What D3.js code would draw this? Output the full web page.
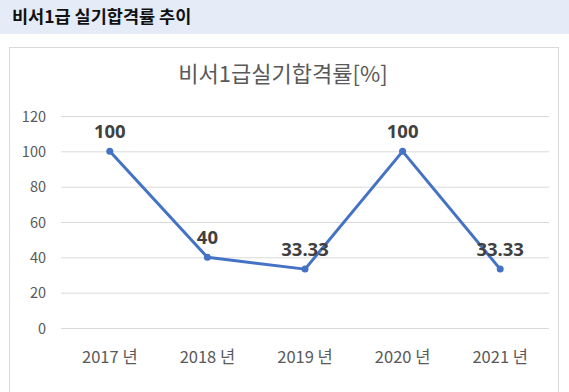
<!DOCTYPE html>
<html><head><meta charset="utf-8">
<script src="https://cdn.jsdelivr.net/npm/d3@7"></script>
<style>body{margin:0;background:#fff;}svg{display:block;}</style>
</head><body>
<svg id="c" width="569" height="392"></svg>
<script>
const pageTitle = "비서1급 실기합격률 추이";
const chartTitle = "비서1급실기합격률[%]";
const categories = ["2017 년", "2018 년", "2019 년", "2020 년", "2021 년"];
const values = [100, 40, 33.33, 100, 33.33];
const valueLabels = ["100", "40", "33.33", "100", "33.33"];
const yTicks = [0, 20, 40, 60, 80, 100, 120];

const svg = d3.select("#c");
svg.append("rect").attr("x",0).attr("y",0).attr("width",569).attr("height",34).attr("fill","#e5ecf8");
svg.append("text").attr("x",12).attr("y",23).text(pageTitle)
  .attr("font-family","'Noto Sans CJK KR', sans-serif").attr("font-weight","bold").attr("font-size",17.5).attr("fill","#111");
svg.append("rect").attr("x",9.5).attr("y",47.5).attr("width",549).attr("height",360).attr("fill","#fff").attr("stroke","#d9d9d9");

const font = "'Noto Sans CJK KR', 'Noto Sans', sans-serif";
svg.append("text").attr("x",283).attr("y",82).attr("text-anchor","middle").text(chartTitle)
  .attr("font-family",font).attr("font-size",22).attr("fill","#595959");

const x = d3.scaleBand().domain(categories).range([61, 549]);
const y = d3.scaleLinear().domain([0,120]).range([328, 116]);

const g = svg.append("g");
g.selectAll("line.grid").data(yTicks).join("line").attr("class","grid")
  .attr("x1",61).attr("x2",549).attr("y1",d=>y(d)+0.5).attr("y2",d=>y(d)+0.5)
  .attr("stroke","#d9d9d9").attr("stroke-width",1);

const yAxis = svg.append("g").attr("transform","translate(46,0)")
  .call(d3.axisLeft(y).tickValues(yTicks).tickSize(0).tickPadding(0));
yAxis.select(".domain").remove();
yAxis.selectAll("text").attr("font-family",font).attr("font-size",14.5).attr("fill","#595959").attr("text-anchor","end").attr("dy","0.35em");

const xAxis = svg.append("g").attr("transform","translate(0,357)")
  .call(d3.axisBottom(x).tickSize(0).tickPadding(0));
xAxis.select(".domain").remove();
xAxis.selectAll("text").attr("font-family",font).attr("font-size",16.5).attr("fill","#595959").attr("dy","0.35em");

const cx = (d,i)=>x(categories[i])+x.bandwidth()/2;
const line = d3.line().x((d,i)=>cx(d,i)).y(d=>y(d));
svg.append("path").datum(values).attr("d",line).attr("fill","none").attr("stroke","#4472c4").attr("stroke-width",3).attr("stroke-linejoin","round");
svg.selectAll("circle.pt").data(values).join("circle").attr("class","pt")
  .attr("cx",cx).attr("cy",d=>y(d)).attr("r",3.5).attr("fill","#4472c4");
svg.selectAll("text.lbl").data(values).join("text").attr("class","lbl")
  .attr("x",cx).attr("y",d=>y(d)-13).attr("text-anchor","middle").text((d,i)=>valueLabels[i])
  .attr("font-family","'Noto Sans', sans-serif").attr("font-weight","bold").attr("font-size",18.5).attr("fill","#404040");
</script>
</body></html>
